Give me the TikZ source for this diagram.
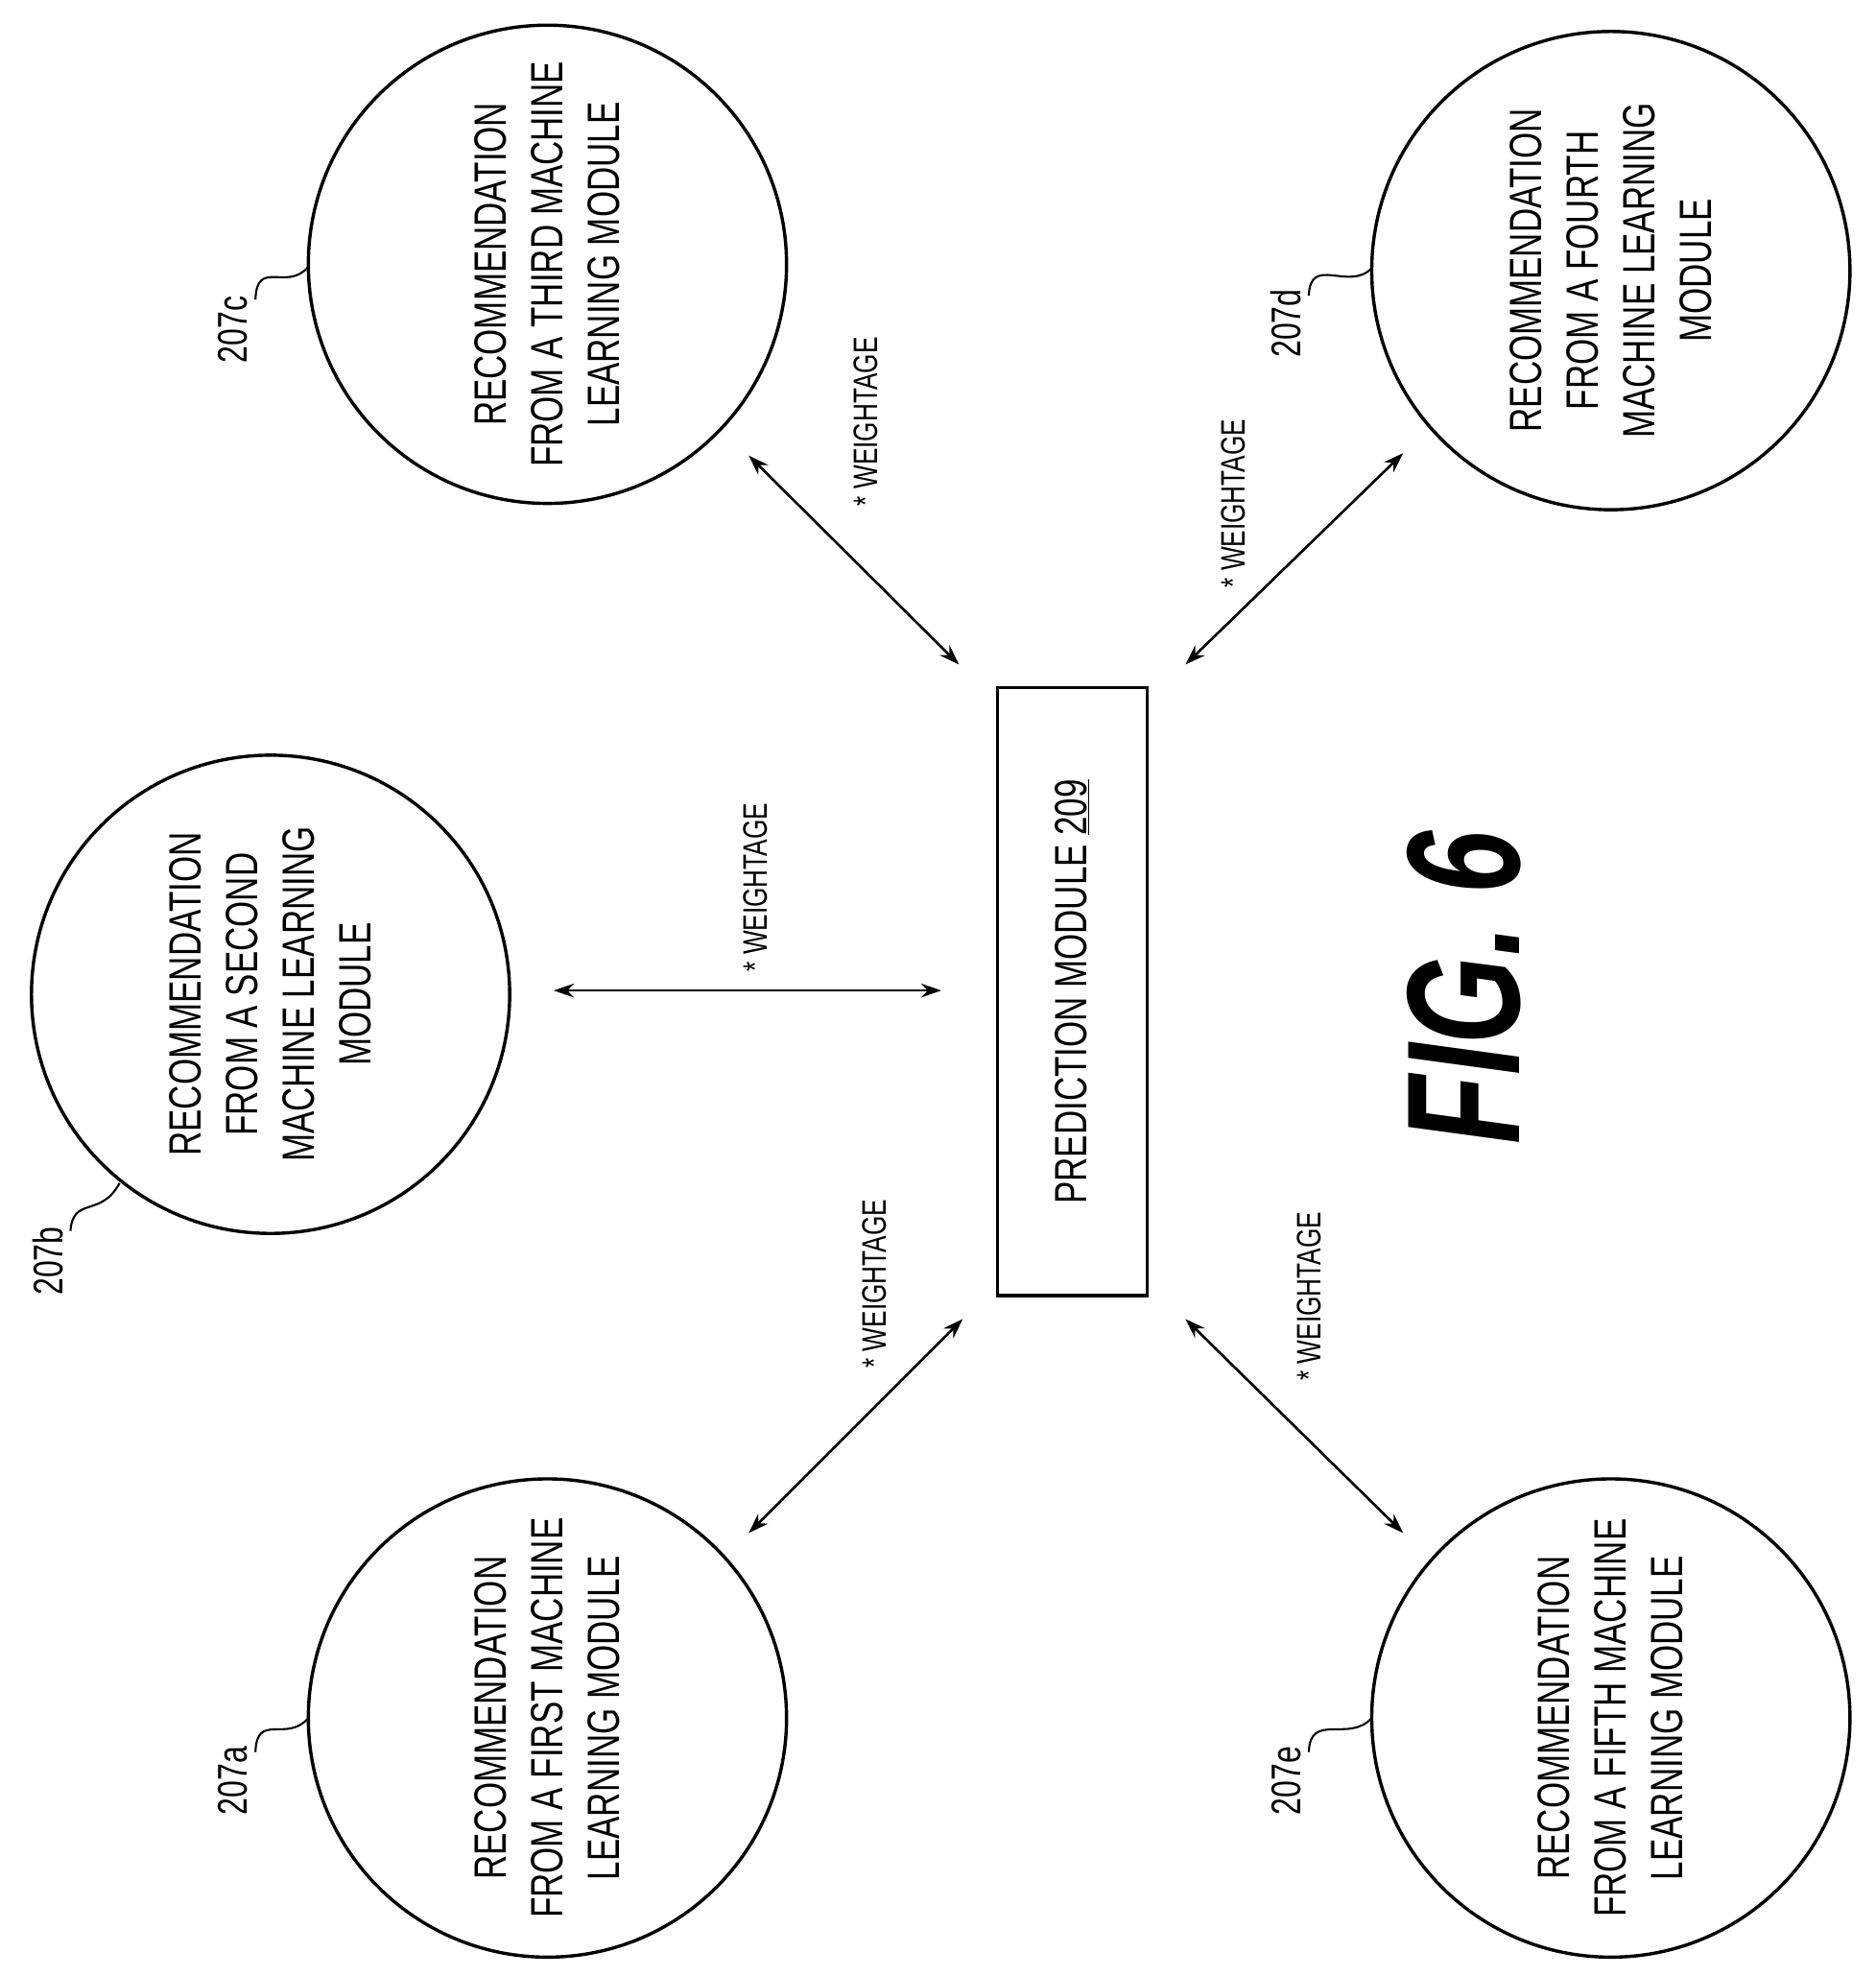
\documentclass[tikz,border=0pt]{standalone}
\usepackage{fontspec}
\setmainfont{Liberation Sans}
\newfontfamily\narrowfont{Liberation Sans}[FakeStretch=0.74]
\newfontfamily\figfont{Liberation Sans}[FakeStretch=0.70,BoldItalicFont={Liberation Sans Bold Italic}]
\usetikzlibrary{arrows.meta}
\tikzset{
  rec/.style={circle,draw,line width=2.6pt,minimum size=380pt,inner sep=0pt},
  rectxt/.style={rotate=90,align=center,font=\narrowfont\fontsize{36}{45}\selectfont},
  wt/.style={rotate=90,font=\narrowfont\fontsize{27}{30}\selectfont},
  lbl/.style={rotate=90,font=\narrowfont\fontsize{33}{36}\selectfont},
  link/.style={{Stealth[length=16pt,width=11pt]}-{Stealth[length=16pt,width=11pt]},line width=2pt},
  lead/.style={line width=1.6pt}
}
\begin{document}
\begin{tikzpicture}[x=1pt,y=-1pt]
  \useasboundingbox (0,0) rectangle (1490,1570);
  % recommendation circles
  \node[rec] (c) at (435,210) {};
  \node[rec] (d) at (1280,215) {};
  \node[rec] (b) at (215,790) {};
  \node[rec] (a) at (435,1365) {};
  \node[rec] (e) at (1280,1365) {};
  \node[rectxt] at (c) {RECOMMENDATION\\FROM A THIRD MACHINE\\LEARNING MODULE};
  \node[rectxt] at (d) {RECOMMENDATION\\FROM A FOURTH\\MACHINE LEARNING\\MODULE};
  \node[rectxt] at (b) {RECOMMENDATION\\FROM A SECOND\\MACHINE LEARNING\\MODULE};
  \node[rectxt] at (a) {RECOMMENDATION\\FROM A FIRST MACHINE\\LEARNING MODULE};
  \node[rectxt] at (e) {RECOMMENDATION\\FROM A FIFTH MACHINE\\LEARNING MODULE};
  % prediction module
  \node[draw,line width=2.6pt,minimum width=119pt,minimum height=483pt,inner sep=0pt] (pm) at (852,788) {};
  \node[rectxt] at (pm) {PREDICTION MODULE \underline{209}};
  % arrow ends
  \coordinate (c1) at (595,362);  \coordinate (c2) at (762,528);
  \coordinate (d1) at (1115,360); \coordinate (d2) at (942,528);
  \coordinate (b1) at (440,787);  \coordinate (b2) at (748,787);
  \coordinate (a1) at (595,1218); \coordinate (a2) at (765,1048);
  \coordinate (e1) at (1115,1218);\coordinate (e2) at (942,1048);
  \draw[link] (c1) -- (c2);
  \draw[link] (d1) -- (d2);
  \draw[link] (b1) -- (b2);
  \draw[link] (a1) -- (a2);
  \draw[link] (e1) -- (e2);
  \node[wt] (wc) at (688,335) {* WEIGHTAGE};
  \node[wt] (wd) at (980,400) {* WEIGHTAGE};
  \node[wt] (wb) at (600,705) {* WEIGHTAGE};
  \node[wt] (wa) at (695,1020) {* WEIGHTAGE};
  \node[wt] (we) at (1040,1030) {* WEIGHTAGE};
  % reference labels
  \node[lbl] (lc) at (185,262) {207c};
  \node[lbl] (ld) at (1022,257) {207d};
  \node[lbl] (lb) at (38,1002) {207b};
  \node[lbl] (la) at (185,1415) {207a};
  \node[lbl] (le) at (1022,1415) {207e};
  \draw[lead] (203,238) .. controls (204,205) and (228,232) .. (245,212);
  \draw[lead] (1040,235) .. controls (1041,202) and (1072,232) .. (1090,213);
  \draw[lead] (56,978) .. controls (58,950) and (80,968) .. (95,940);
  \draw[lead] (203,1392) .. controls (204,1360) and (228,1385) .. (245,1365);
  \draw[lead] (1040,1392) .. controls (1041,1360) and (1072,1385) .. (1090,1365);
  % figure caption
  \node[rotate=90,font=\figfont\bfseries\itshape\fontsize{128}{130}\selectfont] (fig) at (1163,785) {FIG. 6};
\end{tikzpicture}
\end{document}
